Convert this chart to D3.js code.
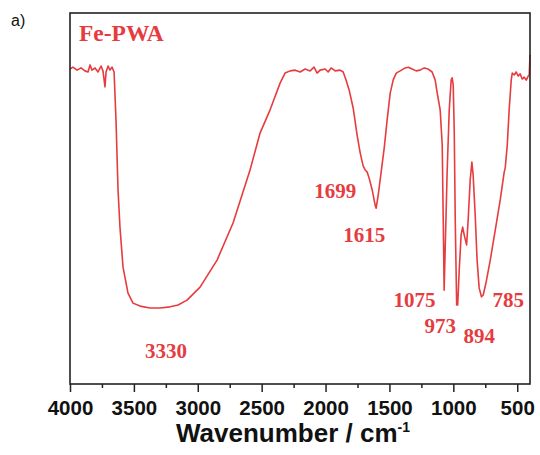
<!DOCTYPE html>
<html>
<head>
<meta charset="utf-8">
<script src="https://cdn.jsdelivr.net/npm/d3@7"></script>
<style>
  body { margin: 0; background: #fff; }
  svg { display: block; }
</style>
</head>
<body>
<div id="chart"></div>
<script>
const width = 540,
  height = 455;
const margin = { top: 13, right: 10, bottom: 71, left: 70 };
const red = "#e63c3f";

// FTIR spectrum of Fe-PWA (wavenumber, transmittance a.u.)
const wavenumber = [
  4000, 3977, 3945, 3914, 3883, 3859, 3843, 3828, 3804, 3781, 3757, 3742, 3726, 3718,
  3702, 3687, 3671, 3655, 3640, 3624, 3609, 3585, 3546, 3507, 3452, 3374, 3295, 3217,
  3154, 3084, 2982, 2849, 2724, 2591, 2512, 2434, 2356, 2317, 2277, 2238, 2199, 2160,
  2121, 2090, 2066, 2043, 2003, 1980, 1956, 1925, 1886, 1862, 1839, 1815, 1784, 1753,
  1729, 1706, 1690, 1674, 1659, 1635, 1612, 1604, 1588, 1565, 1541, 1518, 1494, 1471,
  1447, 1416, 1377, 1353, 1322, 1291, 1260, 1228, 1197, 1166, 1142, 1126, 1103, 1087,
  1079, 1072, 1064, 1048, 1032, 1017, 1009, 1001, 993, 985, 974, 966, 954, 939, 927,
  915, 896, 884, 868, 855, 845, 829, 814, 798, 780, 766, 743, 711, 672, 633, 602, 594,
  578, 563, 547, 539, 523, 508, 492, 477, 461, 445, 429, 414, 406, 400
];
const transmittance = [
  84.9, 85.4, 84.6, 85.2, 84.4, 84.1, 86.0, 84.6, 85.2, 84.1, 85.7, 84.4, 80.1, 84.1,
  85.7, 84.6, 85.4, 84.1, 71.2, 52.3, 42.3, 31.5, 24.5, 21.8, 21.0, 20.5, 20.5, 20.8,
  21.3, 22.6, 26.1, 33.4, 43.4, 57.7, 67.7, 73.9, 81.1, 83.8, 84.4, 84.6, 84.1, 84.9,
  84.4, 85.4, 83.8, 84.6, 84.9, 84.1, 85.2, 84.4, 84.6, 84.1, 81.9, 79.2, 74.4, 67.1,
  62.3, 58.8, 57.7, 57.1, 55.5, 52.3, 48.2, 47.4, 50.9, 57.1, 63.6, 71.2, 78.4, 81.9,
  83.8, 84.4, 85.2, 85.4, 84.9, 84.4, 84.6, 85.2, 84.9, 84.1, 81.9, 78.4, 73.9, 64.4,
  44.2, 25.3, 36.1, 57.7, 73.9, 81.9, 82.5, 80.6, 68.5, 44.2, 21.3, 21.3, 30.7, 40.2, 42.3,
  40.2, 37.5, 44.2, 55.0, 59.8, 56.3, 45.6, 33.4, 25.9, 23.5, 24.0, 27.5, 33.4, 41.5, 49.6, 57.1, 58.2,
  64.4, 73.9, 81.9, 83.8, 83.3, 84.1, 83.0, 83.6, 82.2, 82.7, 81.9, 83.0, 83.3, 88.7
];
const data = wavenumber.map((w, i) => ({ w: w, t: transmittance[i] }));

const majorTicks = [4000, 3500, 3000, 2500, 2000, 1500, 1000, 500];
const minorTicks = [3750, 3250, 2750, 2250, 1750, 1250, 750];

// peak labels: text, wavenumber of label centre, transmittance of label baseline
const peakLabels = ["1699", "1615", "3330", "1075", "973", "894", "785"];
const peakX = [1925, 1698, 3248, 1303, 1103, 798, 571];
const peakY = [50.1, 38.3, 7.0, 20.8, 13.7, 11.0, 20.8];

const innerW = width - margin.left - margin.right;
const innerH = height - margin.top - margin.bottom;

const x = d3.scaleLinear().domain([4000, 400]).range([0, innerW]);
const y = d3.scaleLinear().domain([0, 100]).range([innerH, 0]);

const svg = d3
  .select("#chart")
  .append("svg")
  .attr("width", width)
  .attr("height", height);

const g = svg
  .append("g")
  .attr("transform", `translate(${margin.left},${margin.top})`);

// spectrum
g.append("path")
  .datum(data)
  .attr("fill", "none")
  .attr("stroke", red)
  .attr("stroke-width", 1.6)
  .attr("stroke-linejoin", "round")
  .attr("d", d3.line().x((d) => x(d.w)).y((d) => y(d.t)));

// minor ticks
g.append("g")
  .attr("transform", `translate(0,${innerH})`)
  .call(d3.axisBottom(x).tickValues(minorTicks).tickSize(4).tickFormat(""))
  .call((a) => a.select(".domain").remove())
  .selectAll("line")
  .attr("stroke", "#222")
  .attr("stroke-width", 1.5);

// major ticks
const xAxis = g
  .append("g")
  .attr("transform", `translate(0,${innerH})`)
  .call(d3.axisBottom(x).tickValues(majorTicks).tickSize(8).tickPadding(8).tickFormat(d3.format("d")));
xAxis.select(".domain").remove();
xAxis.selectAll("line").attr("stroke", "#222").attr("stroke-width", 1.5);
xAxis
  .selectAll("text")
  .attr("fill", "#111")
  .style("font-family", "Liberation Sans, Arial, sans-serif")
  .style("font-size", "20.5px")
  .style("font-weight", "bold");

// frame
g.append("rect")
  .attr("x", 0)
  .attr("y", 0)
  .attr("width", innerW)
  .attr("height", innerH)
  .attr("fill", "none")
  .attr("stroke", "#222")
  .attr("stroke-width", 1.6);

// axis title
const title = svg
  .append("text")
  .attr("x", 176)
  .attr("y", 442)
  .attr("fill", "#111")
  .style("font-family", "Liberation Sans, Arial, sans-serif")
  .style("font-size", "26px")
  .style("font-weight", "bold");
title.append("tspan").text("Wavenumber / cm");
title.append("tspan").attr("dy", -10).style("font-size", "14px").text("-1");

// panel letter
svg
  .append("text")
  .attr("x", 11)
  .attr("y", 26)
  .attr("fill", "#111")
  .style("font-family", "Liberation Sans, Arial, sans-serif")
  .style("font-size", "16px")
  .text("a)");

// sample name
g.append("text")
  .attr("x", 9)
  .attr("y", 28)
  .attr("fill", red)
  .style("font-family", "Liberation Serif, Times New Roman, serif")
  .style("font-size", "23.5px")
  .style("font-weight", "bold")
  .text("Fe-PWA");

// peak labels
g.selectAll(".peak")
  .data(peakLabels)
  .enter()
  .append("text")
  .attr("class", "peak")
  .attr("x", (d, i) => x(peakX[i]))
  .attr("y", (d, i) => y(peakY[i]))
  .attr("text-anchor", "middle")
  .attr("fill", red)
  .style("font-family", "Liberation Serif, Times New Roman, serif")
  .style("font-size", "21px")
  .style("font-weight", "bold")
  .text((d) => d);
</script>
</body>
</html>
